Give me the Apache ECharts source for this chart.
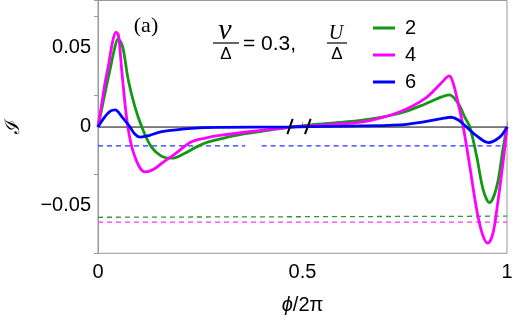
<!DOCTYPE html>
<html><head><meta charset="utf-8">
<script src="https://cdn.jsdelivr.net/npm/echarts@6/dist/echarts.min.js"></script>
<style>html,body{margin:0;padding:0;background:#fff}#c{width:516px;height:321px}</style>
</head><body><div id="c"></div>
<script>
// ---- data ----
const xTicks = [0, 0.5, 1];
const yTicks = [-0.05, 0, 0.05];
const legendNames = ['2', '4', '6'];
const curveU2 = [[0,0],[0.01,0.0125],[0.02,0.025],[0.03,0.037],[0.04,0.049],[0.049,0.0557],[0.06,0.051],[0.074,0.0297],[0.09,0.013],[0.107,0],[0.13,-0.0125],[0.155,-0.0185],[0.18,-0.0198],[0.21,-0.017],[0.24,-0.0128],[0.27,-0.0095],[0.306,-0.0072],[0.35,-0.0048],[0.39,-0.0032],[0.43,-0.0015],[0.47,-0.0003],[0.52,0.0013],[0.6,0.003],[0.665,0.0049],[0.74,0.0088],[0.8,0.0145],[0.84,0.019],[0.859,0.0203],[0.872,0.018],[0.885,0.0129],[0.897,0.006],[0.909,0],[0.926,-0.0188],[0.942,-0.040],[0.957,-0.0479],[0.975,-0.0378],[0.991,-0.0125],[1,0]];
const curveU4 = [[0,0],[0.01,0.016],[0.017,0.0277],[0.025,0.038],[0.035,0.053],[0.044,0.060],[0.05,0.058],[0.058,0.036],[0.073,0],[0.09,-0.0188],[0.115,-0.0285],[0.135,-0.027],[0.156,-0.023],[0.196,-0.0156],[0.225,-0.0098],[0.26,-0.0072],[0.306,-0.0051],[0.388,-0.0025],[0.46,-0.0005],[0.52,0.0008],[0.6,0.002],[0.665,0.004],[0.74,0.0097],[0.8,0.018],[0.84,0.028],[0.859,0.0323],[0.868,0.028],[0.877,0.019],[0.893,0],[0.909,-0.025],[0.926,-0.0525],[0.94,-0.068],[0.953,-0.0736],[0.965,-0.068],[0.975,-0.0525],[0.991,-0.021],[1,0]];
const curveU6 = [[0,0],[0.017,0.0065],[0.03,0.010],[0.042,0.0108],[0.058,0.0065],[0.078,0],[0.09,-0.0045],[0.103,-0.0065],[0.125,-0.0055],[0.156,-0.003],[0.237,-0.0008],[0.3,-0.0003],[0.47,0],[0.52,0.0002],[0.6,0.0005],[0.74,0.0013],[0.8,0.0034],[0.84,0.0052],[0.863,0.0061],[0.88,0.0045],[0.901,0],[0.926,-0.0057],[0.954,-0.0099],[0.983,-0.0063],[1,0]];
const dashU2 = [[0,-0.0572],[1,-0.0565]];
const dashU4 = [[0,-0.0603],[1,-0.0603]];
const dashU6a = [[0,-0.012],[0.36,-0.012]];
const dashU6b = [[0.40,-0.012],[1,-0.012]];
const zeroLine = [[0,0],[1,0]];
const breakMark1 = [[0.463,-0.0046],[0.476,0.0051]];
const breakMark2 = [[0.506,-0.0046],[0.520,0.0051]];

const GREEN = '#129812', MAG = '#ff00ff', BLUE = '#0000ff';
const chart = echarts.init(document.getElementById('c'), null, {renderer:'canvas'});
const font = 'Liberation Sans';
function line(name, data, color, width, type, z){
  return {name, type:'line', data, showSymbol:false, symbol:'none', smooth: type==='solid'?0.35:false,
    lineStyle:{color, width, type: type==='dash'?[5,4]:'solid'}, itemStyle:{color}, z:z||2, silent:true, animation:false};
}
chart.setOption({
  animation:false,
  grid:{left:98, right:9, top:0.5, height:252.8, show:true, borderColor:'#999', borderWidth:1, containLabel:false, outerBoundsMode:'none'},
  xAxis:{type:'value', min:0, max:1, interval:0.5,
    axisLine:{show:true, lineStyle:{color:'#999'}}, axisTick:{inside:true, length:5, lineStyle:{color:'#999'}},
    splitLine:{show:false},
    axisLabel:{color:'#000', fontSize:20, fontFamily:font, margin:9, formatter:v=>xTicks.includes(v)?String(v):''},
    name:'{i|ϕ}/2π', nameLocation:'middle', nameGap:42,
    nameTextStyle:{color:'#000', fontSize:20, fontFamily:font, rich:{i:{fontStyle:'italic', fontSize:20, fontFamily:font}}}},
  yAxis:{type:'value', min:-0.08, max:0.08, interval:0.05,
    axisLine:{show:true, onZero:false, lineStyle:{color:'#999'}}, axisTick:{inside:false, length:4, lineStyle:{color:'#999'}},
    splitLine:{show:false},
    axisLabel:{color:'#000', fontSize:20, fontFamily:font, margin:7,
      customValues: yTicks,
      formatter:v=>{ if(Math.abs(v)<1e-9) return '0'; return (v<0?'−':'')+Math.abs(v).toFixed(2);} },
    name:'ℐ', nameLocation:'middle', nameGap:74, nameRotate:90,
    nameTextStyle:{color:'#000', fontSize:20, fontFamily:'DejaVu Serif'}},
  legend:{orient:'vertical', left:368, top:10, itemWidth:22, itemHeight:3, itemGap:1, icon:'rect',
    data:legendNames, textStyle:{fontSize:20, fontFamily:font, color:'#000', lineHeight:26, padding:[0,0,0,5]}},
  series:[
    line('zero', zeroLine, '#444', 1, 'thin', 1),
    line('d2', dashU2, '#2a9a3a', 1.3, 'dash', 1),
    line('d4', dashU4, '#ff33ff', 1.3, 'dash', 1),
    line('d6a', dashU6a, '#2233ff', 1.3, 'dash', 1),
    line('d6b', dashU6b, '#2233ff', 1.3, 'dash', 1),
    line('2', curveU2, GREEN, 2.8, 'solid', 3),
    line('4', curveU4, MAG, 2.8, 'solid', 3),
    line('6', curveU6, BLUE, 2.8, 'solid', 4),
    line('b1', breakMark1, '#000', 2, 'thin', 5),
    line('b2', breakMark2, '#000', 2, 'thin', 5)
  ],
  graphic:[
    {type:'text', x:146, y:26, style:{text:'(a)', font:'22px "Liberation Serif"', fill:'#000', align:'center', verticalAlign:'middle'}},
    {type:'text', x:225, y:31, style:{text:'v', font:'italic 30px "Liberation Serif"', fill:'#000', align:'center', verticalAlign:'middle'}},
    {type:'line', shape:{x1:213, y1:43, x2:239, y2:43}, style:{stroke:'#000', lineWidth:1.2}},
    {type:'text', x:226, y:54, style:{text:'Δ', font:'17px "Liberation Sans"', fill:'#000', align:'center', verticalAlign:'middle'}},
    {type:'text', x:243, y:44, style:{text:'= 0.3,', font:'21px "Liberation Sans"', fill:'#000', verticalAlign:'middle'}},
    {type:'text', x:336, y:34, style:{text:'U', font:'italic 20px "Liberation Serif"', fill:'#000', align:'center', verticalAlign:'middle'}},
    {type:'line', shape:{x1:327, y1:43, x2:347, y2:43}, style:{stroke:'#000', lineWidth:1.2}},
    {type:'text', x:337, y:54, style:{text:'Δ', font:'17px "Liberation Sans"', fill:'#000', align:'center', verticalAlign:'middle'}}
  ]
});
</script></body></html>
